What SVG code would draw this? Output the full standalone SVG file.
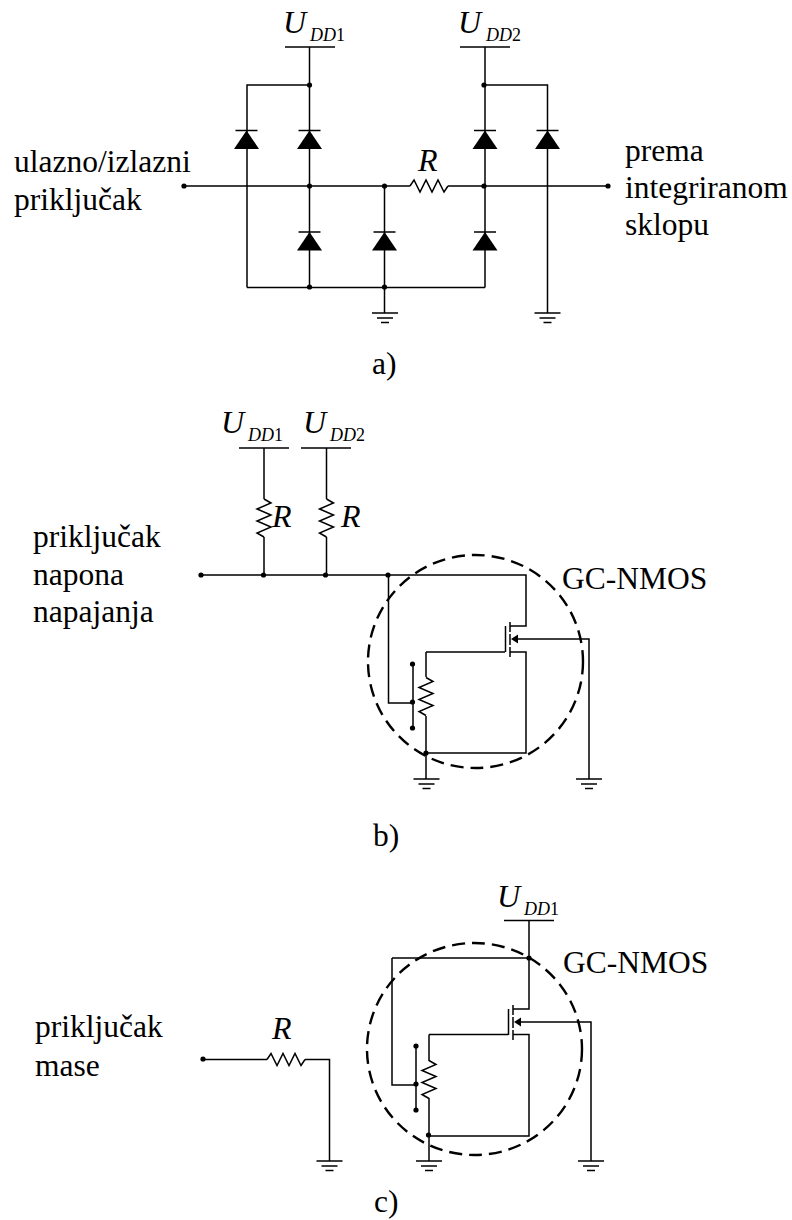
<svg xmlns="http://www.w3.org/2000/svg" width="792" height="1220" viewBox="0 0 792 1220">
<style>
text{font-family:"Liberation Serif","Times New Roman",serif;fill:#000}
.t{font-size:31.500px}
.i{font-style:italic}
.u{font-size:32px;font-style:italic}
.s{font-size:18px}
.w{fill:none;stroke:#000;stroke-width:1.5}
.c{fill:none;stroke:#000;stroke-width:2.4;stroke-dasharray:13 7}
</style>
<defs>
<circle id="dot" r="2.6" fill="#000"/>
<g id="gnd" class="w"><path d="M-13 0H13M-8 5H8M-4 9.500H4"/></g>
<g id="dio"><path d="M-11 0H11" class="w"/><path d="M0 0L12.500 18.500H-12.500Z" fill="#000"/></g>
<path id="rh" class="w" d="M-19 0L-15 -6L-9 6L-3 -6L3 6L9 -6L15 6L19 0"/>
<path id="rv" class="w" d="M0 -19L7 -15L-7 -9L7 -3L-7 3L7 9L-7 15L0 19"/>
</defs>
<rect width="792" height="1220" fill="#fff"/>

<g id="connectors" class="w">
<path d="M285 47H335M460 47H510"/>
<path d="M309.500 47V287.500M485 47V287.500M247 287.500V85H309.500M485 85H547.500V313M184 186H410M448 186H608M247 287.500H485M384.500 186V313"/>
<path d="M239 448H289M301 448H351M264 448V499M264 537V575M326.500 448V499M326.500 537V575M201 575H526V626H510M388.500 575V703H413M426 652H505M426 652V677M426 716V779M510 652H526V753H426M518 639H589V779"/>
<path d="M504 920.500H554M529 920.500V1009H513M392 958H529M392 958V1085H416M429 1034.500H508M429 1034.500V1061M429 1098V1161M513 1034.500H529V1136H429M519 1022H591V1161M203 1059.500H267M305 1059.500H329.500V1161"/>
<path d="M505.500 626V652M510 622V632M510 634V645M510 647V657M508.500 1009V1035M513 1005V1015M513 1017V1028M513 1030V1040"/>
<path d="M413 664V728M416 1046V1110"/>
</g>

<g id="figure-a">
<g id="udd1-a"><text class="u" x="283" y="33">U</text><text class="s i" x="310" y="41">DD<tspan font-style="normal">1</tspan></text></g>
<g id="udd2-a"><text class="u" x="458" y="33">U</text><text class="s i" x="486" y="41">DD<tspan font-style="normal">2</tspan></text></g>
<g id="diodes-a">
<use href="#dio" x="246.500" y="130.500"/><use href="#dio" x="309.500" y="130.500"/><use href="#dio" x="485" y="130.500"/><use href="#dio" x="547.500" y="130.500"/>
<use href="#dio" x="309.500" y="232"/><use href="#dio" x="384.500" y="232"/><use href="#dio" x="485" y="232"/>
</g>
<g id="r-a"><use href="#rh" x="429" y="186"/><text class="u" x="418" y="171">R</text></g>
<g id="dots-a"><use href="#dot" x="309.500" y="85"/><use href="#dot" x="484" y="85"/><use href="#dot" x="184" y="186"/><use href="#dot" x="309.500" y="186"/><use href="#dot" x="384.500" y="186"/><use href="#dot" x="484" y="186"/><use href="#dot" x="608" y="186"/><use href="#dot" x="309.500" y="287"/><use href="#dot" x="384.500" y="287"/></g>
<g id="gnd-a"><use href="#gnd" x="385" y="313"/><use href="#gnd" x="547.500" y="313"/></g>
<g id="labels-a">
<text class="t" x="14" y="172">ulazno/izlazni</text><text class="t" x="14" y="210">priključak</text>
<text class="t" x="625" y="161">prema</text><text class="t" x="625" y="198">integriranom</text><text class="t" x="625" y="235">sklopu</text>
<text class="t" x="372" y="374">a)</text>
</g>
</g>

<g id="figure-b">
<g id="udd1-b"><text class="u" x="221" y="433">U</text><text class="s i" x="248" y="441">DD<tspan font-style="normal">1</tspan></text></g>
<g id="udd2-b"><text class="u" x="303" y="433">U</text><text class="s i" x="330" y="441">DD<tspan font-style="normal">2</tspan></text></g>
<g id="r-b"><use href="#rv" x="264" y="518"/><use href="#rv" x="326.500" y="518"/><text class="u" x="272" y="527">R</text><text class="u" x="341" y="527">R</text></g>
<g id="gc-b">
<ellipse class="c" cx="475.500" cy="661.500" rx="107.500" ry="106.500"/>
<use href="#rv" x="426" y="696.500"/>
<path d="M511 639L518 634.500V643.500Z" fill="#000"/>
</g>
<g id="dots-b"><use href="#dot" x="201" y="575"/><use href="#dot" x="263.500" y="575"/><use href="#dot" x="325.500" y="575"/><use href="#dot" x="388" y="575"/><use href="#dot" x="412.500" y="664"/><use href="#dot" x="412.500" y="702"/><use href="#dot" x="412.500" y="728"/><use href="#dot" x="426" y="753"/></g>
<g id="gnd-b"><use href="#gnd" x="426.500" y="779"/><use href="#gnd" x="589" y="779"/></g>
<g id="labels-b">
<text class="t" x="33" y="547">priključak</text><text class="t" x="33" y="585">napona</text><text class="t" x="33" y="622">napajanja</text>
<text class="t" x="562" y="589">GC-NMOS</text><text class="t" x="373" y="846">b)</text>
</g>
</g>

<g id="figure-c">
<g id="udd1-c"><text class="u" x="497" y="907">U</text><text class="s i" x="524" y="915">DD<tspan font-style="normal">1</tspan></text></g>
<g id="r-c"><use href="#rh" x="286" y="1059.500"/><text class="u" x="272" y="1039">R</text></g>
<g id="gc-c">
<ellipse class="c" cx="474.500" cy="1049" rx="107.500" ry="106"/>
<use href="#rv" x="429" y="1079.500"/>
<path d="M514 1022L521 1017.500V1026.500Z" fill="#000"/>
</g>
<g id="dots-c"><use href="#dot" x="203" y="1059"/><use href="#dot" x="529" y="958"/><use href="#dot" x="416" y="1046"/><use href="#dot" x="416" y="1084"/><use href="#dot" x="416" y="1110"/><use href="#dot" x="428.500" y="1135"/></g>
<g id="gnd-c"><use href="#gnd" x="329.500" y="1161"/><use href="#gnd" x="429" y="1161"/><use href="#gnd" x="591" y="1161"/></g>
<g id="labels-c">
<text class="t" x="35" y="1037">priključak</text><text class="t" x="35" y="1076">mase</text>
<text class="t" x="563" y="973">GC-NMOS</text><text class="t" x="374" y="1212">c)</text>
</g>
</g>
</svg>
